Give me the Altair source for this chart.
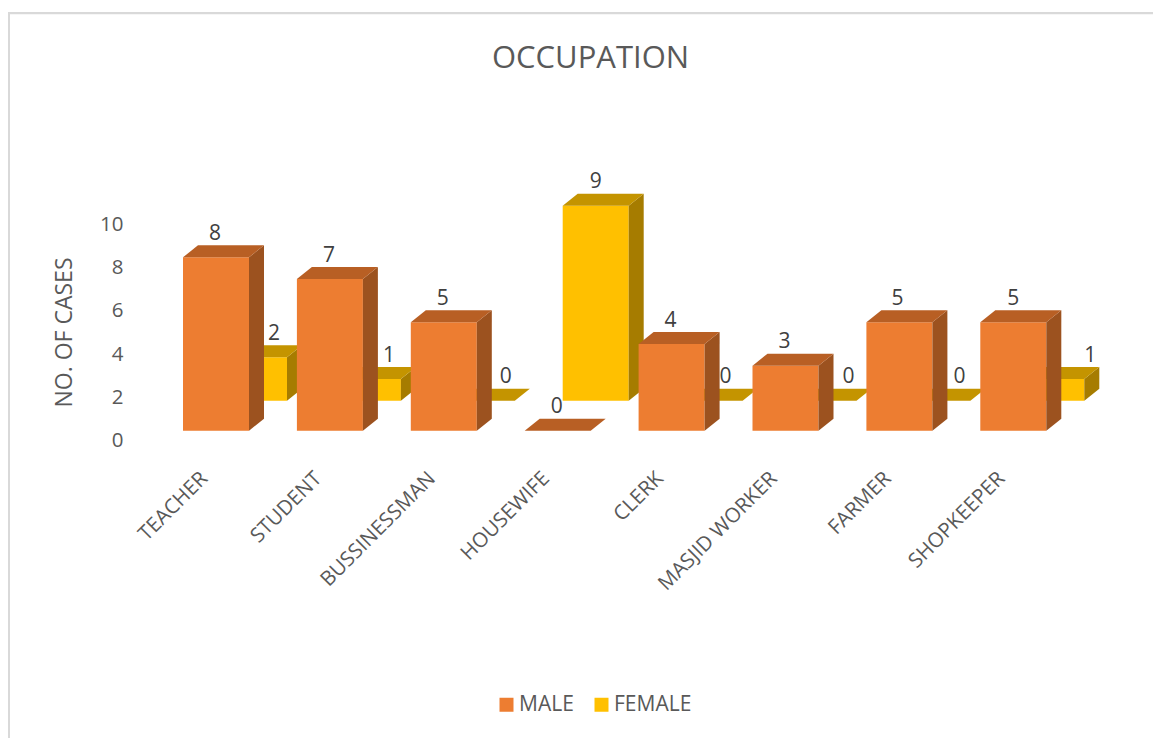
import altair as alt
import pandas as pd

categories = ["TEACHER", "STUDENT", "BUSSINESSMAN", "HOUSEWIFE", "CLERK", "MASJID WORKER", "FARMER", "SHOPKEEPER"]
male = [8, 7, 5, 0, 4, 3, 5, 5]
female = [2, 1, 0, 9, 0, 0, 0, 1]
series_names = ["MALE", "FEMALE"]
front_colors = ["#ED7D31", "#FFC000"]
side_colors = ["#9C521F", "#A67C00"]
top_colors = ["#B85F24", "#C49400"]

# layout, in pixels of the plot area
W, H = 1145, 730
PX_X = 113.9            # px per category
PX_Y = 21.67            # px per value unit
X0 = 175.0              # px of first front bar's left edge
Y0 = 422.7              # px of the value zero line
BAR = 66 / PX_X
DEPTH_X = 15 / PX_X
DEPTH_Y = 12 / PX_Y
FEMALE_DX = 38 / PX_X
FEMALE_DY = 30 / PX_Y
LABEL_DY = 11.5 / PX_Y
# Hand placed label nudges of the reference (px)
male_nudge = [-1, -1, -1, -1, -1, -1, -2, 0]
female_nudge = [20, 21, 24, 0, 16, 25, 22, 39]

xdom = [-X0 / PX_X, (W - X0) / PX_X]
ydom = [-(H - Y0) / PX_Y, Y0 / PX_Y]


def frames(values, name, shift_x, shift_y, nudge):
    fronts, sides, tops, labels = [], [], [], []
    for i, v in enumerate(values):
        left = i + shift_x
        right = left + BAR
        base = shift_y
        top = base + v
        fronts.append(dict(series=name, x=left, x2=right, y=base, y2=top))
        for t in (0, 1):
            sides.append(dict(bar=i, x=right + t * DEPTH_X, y=base + t * DEPTH_Y, y2=top + t * DEPTH_Y))
            tops.append(dict(bar=i, y=top + t * DEPTH_Y, x=left + t * DEPTH_X, x2=right + t * DEPTH_X))
        labels.append(dict(x=left + BAR / 2 + nudge[i] / PX_X, y=top + DEPTH_Y + LABEL_DY, text=str(v)))
    return map(pd.DataFrame, (fronts, sides, tops, labels))


names_js = "[" + ",".join(f"'{c}'" for c in categories) + "]"
x_scale = alt.Scale(domain=xdom, nice=False, zero=False)
y_scale = alt.Scale(domain=ydom, nice=False, zero=False)
x_axis = alt.Axis(
    values=list(range(len(categories))), labelExpr=f"{names_js}[datum.value]", title=None,
    domain=False, ticks=False, grid=False, labelAngle=-45, labelAlign="right",
    labelBaseline="middle", labelFont="Open Sans", labelFontSize=20.5, labelColor="#595959",
    labelOffset=21, labelPadding=0, offset=-263, labelOverlap=False, labelFlush=False,
    labelBound=False,
)
y_axis = alt.Axis(
    values=[0, 2, 4, 6, 8, 10], title="NO. OF CASES", titleFont="Open Sans", titleFontSize=23,
    titleFontWeight="normal", titleColor="#595959", titleX=-47, titleY=324, domain=False,
    ticks=False, grid=False, labelFont="Open Sans", labelFontSize=20.5, labelColor="#595959",
    labelOffset=10, labelPadding=0, offset=-115, labelOverlap=False, labelBound=False,
)
X = alt.X("x:Q", scale=x_scale, axis=x_axis)
Y = alt.Y("y:Q", scale=y_scale, axis=y_axis)
color = alt.Color(
    "series:N",
    scale=alt.Scale(domain=series_names, range=front_colors),
    legend=alt.Legend(
        title=None, orient="none", legendX=488, legendY=686, direction="horizontal",
        symbolType="square", symbolSize=196, symbolStrokeWidth=0, labelFontSize=21,
        labelFont="Open Sans", labelColor="#595959", columnPadding=17, labelOffset=2,
    ),
)


def bar_layers(values, idx, shift_x, shift_y, nudge):
    f, s, t, l = frames(values, series_names[idx], shift_x, shift_y, nudge)
    front = alt.Chart(f).mark_rect(opacity=1).encode(X, alt.X2("x2:Q"), Y, alt.Y2("y2:Q"), color=color)
    side = alt.Chart(s).mark_area(fill=side_colors[idx], opacity=1, fillOpacity=1).encode(
        X, Y, alt.Y2("y2:Q"), detail="bar:N"
    )
    top = alt.Chart(t).mark_area(fill=top_colors[idx], orient="horizontal", opacity=1, fillOpacity=1).encode(
        X, alt.X2("x2:Q"), Y, detail="bar:N"
    )
    return [front, side, top], l


female_layers, female_labels = bar_layers(female, 1, FEMALE_DX, FEMALE_DY, female_nudge)
male_layers, male_labels = bar_layers(male, 0, 0, 0, male_nudge)
labels = pd.concat([female_labels, male_labels])
label_layer = alt.Chart(labels).mark_text(
    font="Open Sans", fontSize=21, color="#404040", align="center", baseline="middle"
).encode(X, Y, text="text:N")

axis_df = pd.DataFrame({"x": [0.0], "y": [0.0]})
frame_top = alt.Chart(axis_df).mark_rule(color="#d9d9d9", strokeWidth=2.3).encode(
    x=alt.value(0), x2=alt.value(W), y=alt.value(5.2)
)
frame_left = alt.Chart(axis_df).mark_rule(color="#d9d9d9", strokeWidth=2).encode(
    x=alt.value(1), y=alt.value(4), y2=alt.value(H)
)

chart = alt.layer(
    frame_top, frame_left, *female_layers, *male_layers, label_layer
).properties(
    width=W, height=H, padding=0,
    autosize=alt.AutoSizeParams(type="none"),
    title=alt.TitleParams(
        "OCCUPATION", font="Open Sans", fontSize=31, fontWeight="normal", color="#595959",
        anchor="middle", frame="group", orient="top", baseline="middle", dy=82, dx=10, offset=0,
    ),
).configure_view(stroke=None)

chart.save("out.html", embed_options={"renderer": "svg", "actions": False})
